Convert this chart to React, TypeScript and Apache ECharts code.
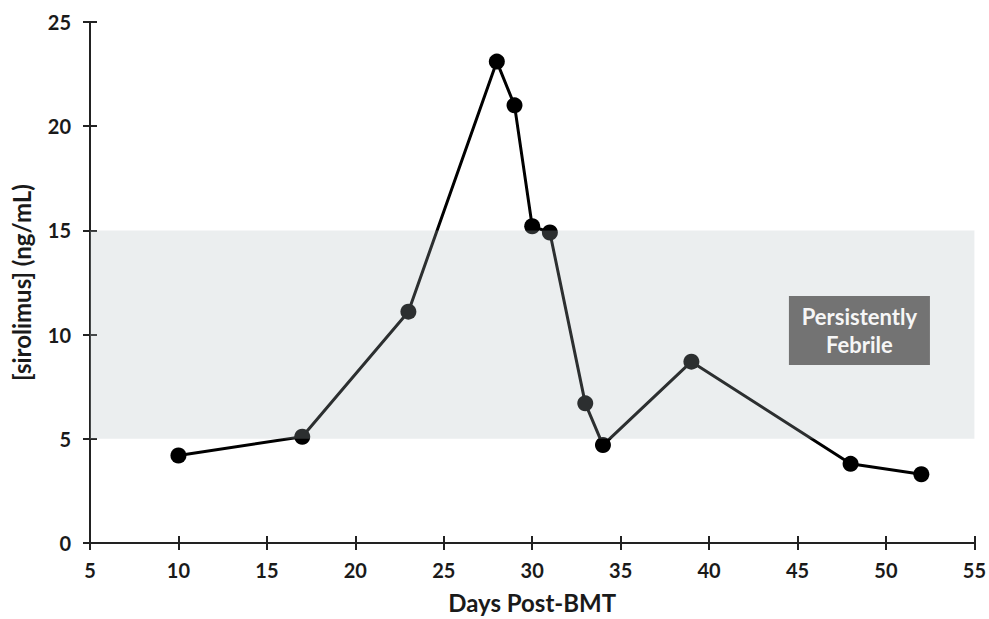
import React, { useEffect, useRef } from "react";
import * as echarts from "echarts";

const days = [10, 17, 23, 28, 29, 30, 31, 33, 34, 39, 48, 52];
const sirolimus = [4.2, 5.1, 11.1, 23.1, 21.0, 15.2, 14.9, 6.7, 4.7, 8.7, 3.8, 3.3];
const bandRange = [5, 15];
const xTicks = { min: 5, max: 55, interval: 5 };
const yTicks = { min: 0, max: 25, interval: 5 };
const labelText = "Persistently\nFebrile";
const labelPos = [48.5, 10.2];

const FONT = "Lato, 'Open Sans', sans-serif";

export default function App() {
  const ref = useRef<HTMLDivElement>(null);
  useEffect(() => {
    if (!ref.current) return;
    const chart = echarts.init(ref.current, undefined, { renderer: "svg" });
    const axisLabel = { color: "#1a1a1a", fontSize: 20, fontWeight: "bold", fontFamily: FONT };
    chart.setOption({
      animation: false,
      backgroundColor: "#ffffff",
      grid: { left: 90, right: 14, top: 22, bottom: 74 },
      xAxis: [
        {
          type: "value",
          min: xTicks.min,
          max: xTicks.max,
          interval: xTicks.interval,
          position: "bottom",
          name: "Days Post-BMT",
          nameLocation: "middle",
          nameGap: 47,
          nameTextStyle: { color: "#1a1a1a", fontSize: 24, fontWeight: "bold", fontFamily: FONT },
          axisLine: { show: true, onZero: false, lineStyle: { color: "#222", width: 2 } },
          axisTick: { show: true, inside: false, length: 7, lineStyle: { color: "#222", width: 2 } },
          axisLabel: { ...axisLabel, margin: 17 },
          splitLine: { show: false },
        },
        {
          type: "value",
          min: xTicks.min,
          max: xTicks.max,
          interval: xTicks.interval,
          position: "bottom",
          axisLine: { show: false, onZero: false },
          axisTick: { show: true, inside: true, length: 7, lineStyle: { color: "#222", width: 2 } },
          axisLabel: { show: false },
          splitLine: { show: false },
        },
      ],
      yAxis: [
        {
          type: "value",
          min: yTicks.min,
          max: yTicks.max,
          interval: yTicks.interval,
          position: "left",
          name: "[sirolimus] (ng/mL)",
          nameLocation: "middle",
          nameGap: 57,
          nameTextStyle: { color: "#1a1a1a", fontSize: 24, fontWeight: "bold", fontFamily: FONT },
          axisLine: { show: true, onZero: false, lineStyle: { color: "#222", width: 2 } },
          axisTick: { show: true, inside: false, length: 7, lineStyle: { color: "#222", width: 2 } },
          axisLabel: { ...axisLabel, margin: 19 },
          splitLine: { show: false },
        },
        {
          type: "value",
          min: yTicks.min,
          max: yTicks.max,
          interval: yTicks.interval,
          position: "left",
          axisLine: { show: false, onZero: false },
          axisTick: { show: true, inside: true, length: 7, lineStyle: { color: "#222", width: 2 } },
          axisLabel: { show: false },
          splitLine: { show: false },
        },
      ],
      series: [
        {
          type: "line",
          z: 2,
          data: days.map((d, i) => [d, sirolimus[i]]),
          symbol: "circle",
          symbolSize: 16,
          lineStyle: { color: "#000", width: 3 },
          itemStyle: { color: "#000" },
        },
        {
          type: "line",
          z: 3,
          data: [],
          silent: true,
          markArea: {
            silent: true,
            z: 3,
            itemStyle: { color: "rgba(175,186,191,0.25)" },
            data: [[{ xAxis: xTicks.min, yAxis: bandRange[0] }, { xAxis: xTicks.max, yAxis: bandRange[1] }]],
          },
        },
        {
          type: "scatter",
          z: 5,
          silent: true,
          data: [labelPos],
          symbol: "rect",
          symbolSize: [141, 69],
          itemStyle: { color: "#737373", opacity: 1 },
          label: {
            show: true,
            position: "inside",
            formatter: labelText,
            color: "#f6f6f6",
            fontSize: 22,
            fontWeight: "bold",
            fontFamily: FONT,
            lineHeight: 28,
            align: "center",
          },
        },
      ],
    });
    return () => chart.dispose();
  }, []);
  return <div ref={ref} style={{ position: "fixed", left: 0, top: 0, width: 989, height: 619 }} />;
}
